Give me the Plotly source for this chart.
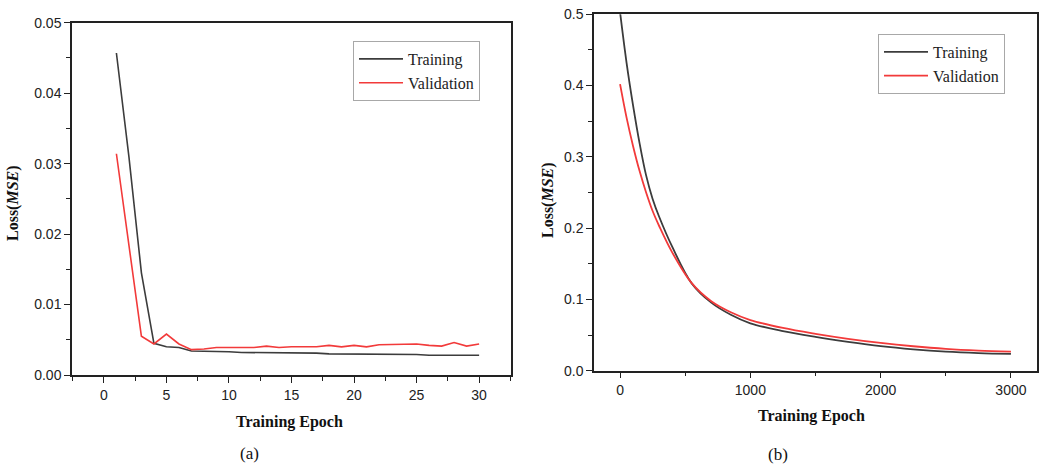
import plotly.graph_objects as go

# ---------- data: panel (a) ----------
epochs_a = list(range(1, 31))
train_a = [0.0457, 0.0310, 0.0145, 0.0045, 0.0040, 0.0039, 0.0034, 0.0034, 0.0033, 0.0033,
           0.0032, 0.0032, 0.0032, 0.0032, 0.0031, 0.0031, 0.0031, 0.0030, 0.0030, 0.0030,
           0.0030, 0.0029, 0.0029, 0.0029, 0.0029, 0.0028, 0.0028, 0.0029, 0.0028, 0.0028]
val_a = [0.0314, 0.0185, 0.0055, 0.0044, 0.0058, 0.0044, 0.0036, 0.0037, 0.0039, 0.0039,
         0.0039, 0.0039, 0.0041, 0.0039, 0.0040, 0.0040, 0.0040, 0.0042, 0.0040, 0.0042,
         0.0040, 0.0043, 0.0043, 0.0043, 0.0044, 0.0042, 0.0041, 0.0046, 0.0041, 0.0044]

# ---------- data: panel (b) ----------
epochs_b = [0, 50, 100, 150, 200, 250, 300, 400, 550, 700, 850, 1000, 1250, 1500, 1750,
            2000, 2250, 2500, 2750, 3000]
train_b = [0.503, 0.432, 0.372, 0.319, 0.274, 0.241, 0.216, 0.174, 0.1225, 0.0955, 0.0785,
           0.0665, 0.0555, 0.0474, 0.0405, 0.0345, 0.0300, 0.0267, 0.0247, 0.0236]
val_b = [0.402, 0.355, 0.315, 0.280, 0.250, 0.224, 0.203, 0.166, 0.1228, 0.0975, 0.0820,
         0.0711, 0.0600, 0.0518, 0.0448, 0.0390, 0.0343, 0.0306, 0.0282, 0.0267]

BLACK = "#3c3c3c"
RED = "#f23a3a"
W, H = 1039, 464

fig = go.Figure()

fig.add_trace(go.Scatter(x=epochs_a, y=train_a, mode="lines", name="Training",
                         line=dict(color=BLACK, width=1.6), xaxis="x", yaxis="y",
                         legend="legend"))
fig.add_trace(go.Scatter(x=epochs_a, y=val_a, mode="lines", name="Validation",
                         line=dict(color=RED, width=1.6), xaxis="x", yaxis="y",
                         legend="legend"))
fig.add_trace(go.Scatter(x=epochs_b, y=train_b, mode="lines", name="Training",
                         line=dict(color=BLACK, width=1.8, shape="spline", smoothing=1.0),
                         xaxis="x2", yaxis="y2", legend="legend2"))
fig.add_trace(go.Scatter(x=epochs_b, y=val_b, mode="lines", name="Validation",
                         line=dict(color=RED, width=1.8, shape="spline", smoothing=1.0),
                         xaxis="x2", yaxis="y2", legend="legend2"))

tickfont = dict(family="Liberation Sans, Arial, sans-serif", size=14, color="#222")
common = dict(showline=True, linecolor="#222", linewidth=1.5, mirror=True,
              ticks="outside", ticklen=6, tickwidth=1.3, tickcolor="#222",
              showgrid=False, zeroline=False, tickfont=tickfont)
minor = dict(ticks="outside", ticklen=4, tickwidth=1.2, tickcolor="#222", showgrid=False)
legfont = dict(family="Liberation Serif, Times New Roman, serif", size=16, color="#222")

fig.update_layout(
    width=W, height=H,
    margin=dict(l=0, r=0, t=0, b=0, autoexpand=False),
    plot_bgcolor="white", paper_bgcolor="white",
    xaxis=dict(domain=[72 / W, 511 / W], range=[-2.55, 32.55], tickvals=[0, 5, 10, 15, 20, 25, 30],
               minor=dict(dtick=2.5, tick0=0, **minor), anchor="y", **common),
    yaxis=dict(domain=[(H - 375) / H, (H - 22.7) / H], range=[0, 0.05], dtick=0.01,
               tickformat=".2f", minor=dict(dtick=0.005, tick0=0, **minor), anchor="x", **common),
    xaxis2=dict(domain=[594 / W, 1037 / W], range=[-200, 3200], tickvals=[0, 1000, 2000, 3000],
                minor=dict(dtick=500, tick0=0, **minor), anchor="y2", **common),
    yaxis2=dict(domain=[(H - 370.7) / H, (H - 14.3) / H], range=[0, 0.5], dtick=0.1,
                tickformat=".1f", minor=dict(dtick=0.05, tick0=0, **minor), anchor="x2", **common),
    legend=dict(x=353 / W, y=(H - 41) / H, xanchor="left", yanchor="top",
                bordercolor="#a8a8a8", borderwidth=1, bgcolor="white",
                font=legfont, tracegroupgap=0, itemwidth=44),
    legend2=dict(x=878 / W, y=(H - 34) / H, xanchor="left", yanchor="top",
                 bordercolor="#a8a8a8", borderwidth=1, bgcolor="white",
                 font=legfont, tracegroupgap=0, itemwidth=44),
    showlegend=True,
)

serif = "Liberation Serif, Times New Roman, serif"
ann = [
    dict(text="<b>Training Epoch</b>", x=289 / W, y=(H - 422) / H, size=16),
    dict(text="<b>Training Epoch</b>", x=811 / W, y=(H - 416) / H, size=16),
    dict(text="(a)", x=249 / W, y=(H - 453) / H, size=17),
    dict(text="(b)", x=778 / W, y=(H - 454) / H, size=17),
]
for a in ann:
    fig.add_annotation(text=a["text"], x=a["x"], y=a["y"], xref="paper", yref="paper",
                       showarrow=False, xanchor="center", yanchor="middle",
                       font=dict(family=serif, size=a["size"], color="#111"))
for xc, yc in [(13, 203), (548, 200)]:
    fig.add_annotation(text="<b>Loss(<i>MSE</i>)</b>", x=xc / W, y=(H - yc) / H,
                       xref="paper", yref="paper", showarrow=False, textangle=-90,
                       xanchor="center", yanchor="middle",
                       font=dict(family=serif, size=16, color="#111"))

fig.write_html("out.html",
               config={"displayModeBar": False},
               post_script="document.body.style.margin='0px';"
                           "document.body.style.overflow='hidden';")
